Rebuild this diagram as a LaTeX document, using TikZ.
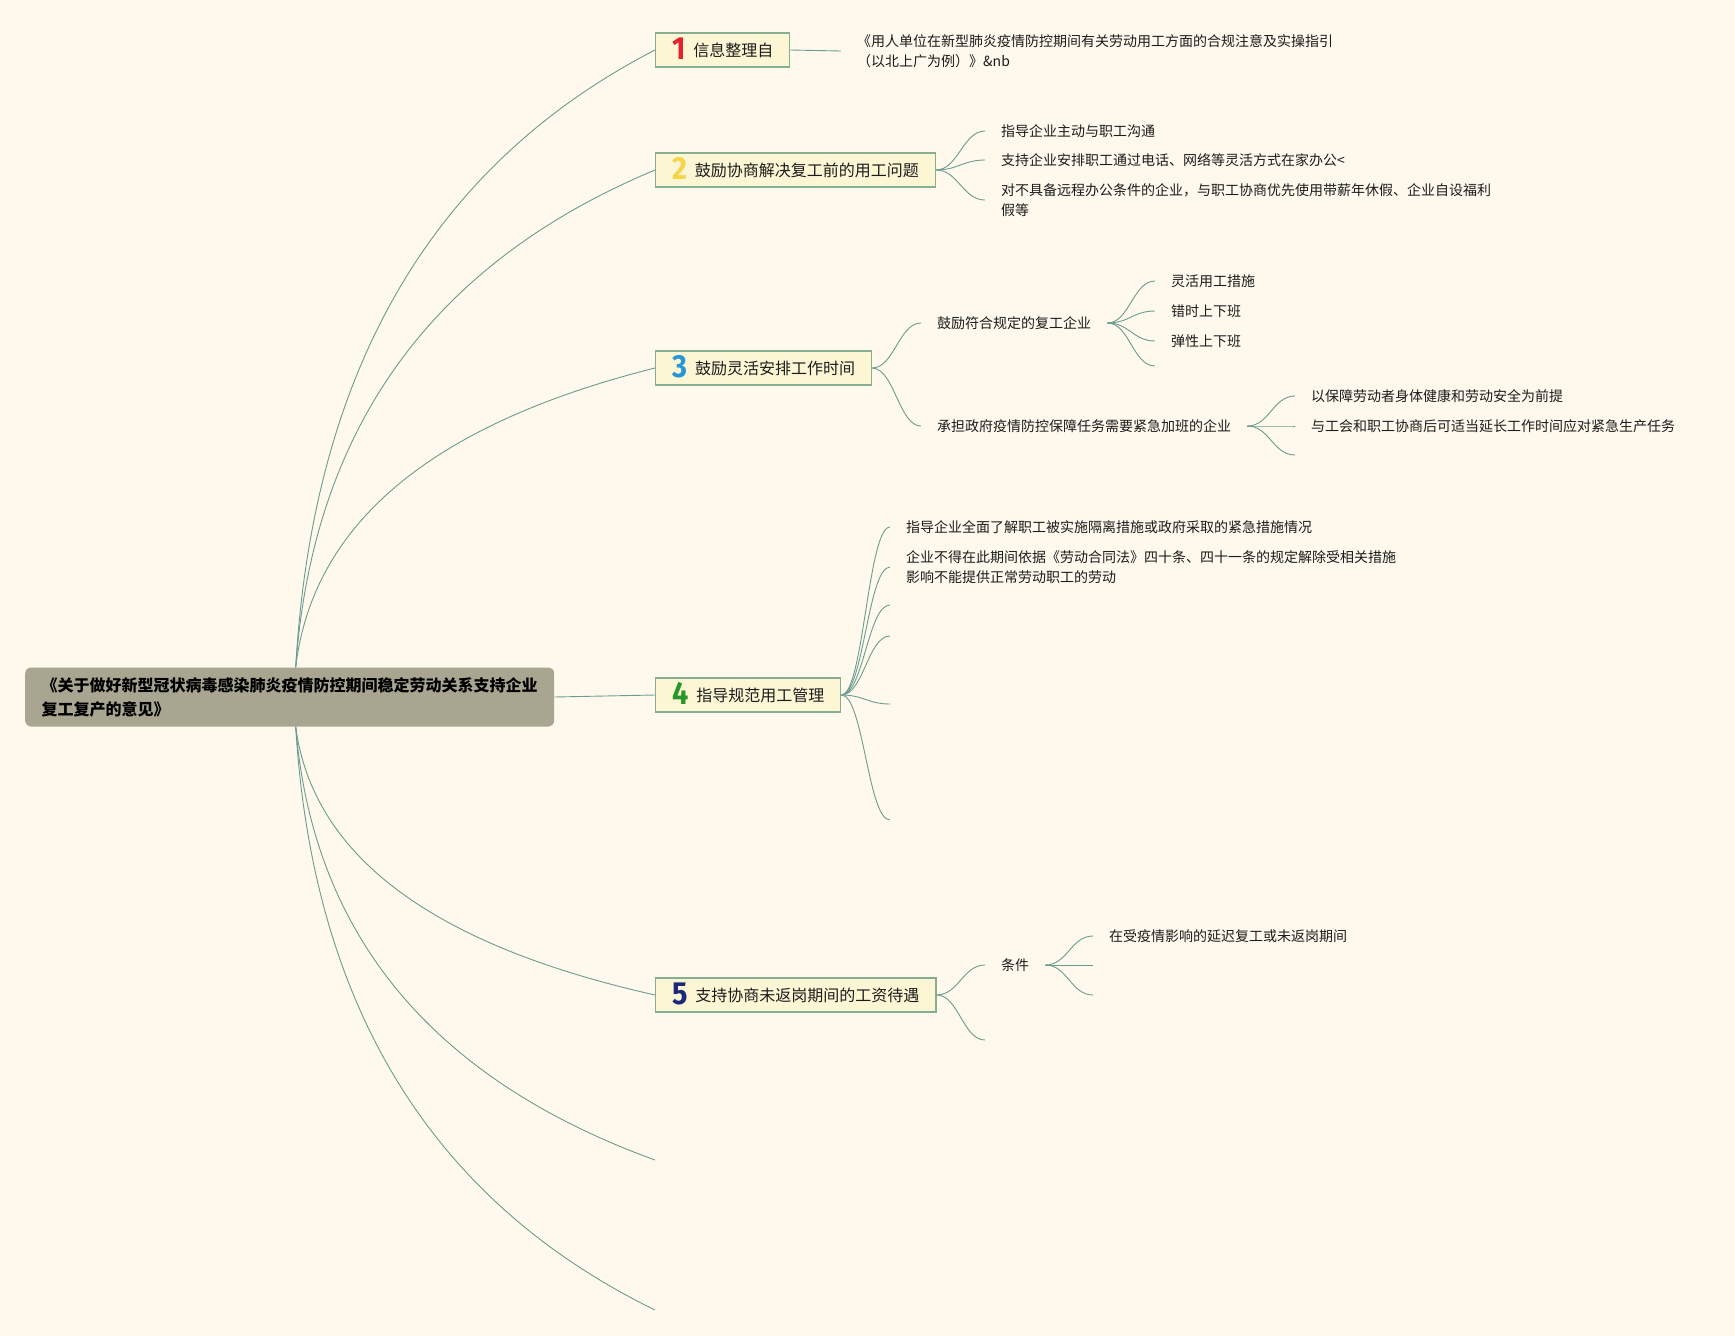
\documentclass[tikz,border=0pt]{standalone}
\usepackage{fontspec}
\setmainfont{Noto Sans CJK SC}
\newfontfamily\numfont{Fira Sans}[FakeStretch=0.9]
\usetikzlibrary{calc}
\definecolor{bgc}{RGB}{254,249,236}
\definecolor{linec}{RGB}{108,156,144}
\definecolor{rootc}{RGB}{168,165,145}
\definecolor{topicfill}{RGB}{253,246,212}
\definecolor{topicdraw}{RGB}{134,174,146}
\definecolor{txt}{RGB}{28,28,28}
\definecolor{nA}{RGB}{226,35,45}
\definecolor{nB}{RGB}{247,213,74}
\definecolor{nC}{RGB}{38,150,215}
\definecolor{nD}{RGB}{40,150,40}
\definecolor{nE}{RGB}{30,40,120}
\newcommand\tnum[2]{\raisebox{-3pt}[0pt][0pt]{\numfont\bfseries\fontsize{32}{32}\selectfont\color{#1}#2}\hspace{8pt}}
\newcommand\sconn[2]{\draw[conn] (#1) .. controls +(22,0) and +(-22,0) .. (#2);}
\begin{document}
\begin{tikzpicture}[x=1pt,y=-1pt,
  conn/.style={draw=linec,line width=0.9pt},
  rootbox/.style={fill=rootc,rounded corners=6pt,anchor=west,align=left,inner xsep=14pt,inner ysep=0pt,
    minimum width=529pt,minimum height=59pt,text=black,font=\bfseries\fontsize{16}{24}\selectfont},
  topic/.style={draw=topicdraw,fill=topicfill,line width=1.1pt,anchor=west,minimum height=34pt,
    inner xsep=16.5pt,inner ysep=0pt,text=txt,font=\fontsize{16}{20}\selectfont},
  leaf/.style={anchor=west,inner xsep=16pt,inner ysep=2pt,align=left,text=txt,font=\fontsize{14}{20}\selectfont}]
\useasboundingbox (0,0) rectangle (1735,1336);
\fill[bgc] (0,0) rectangle (1735,1336);

% root
\node[rootbox] (root) at (25,697) {《关于做好新型冠状病毒感染肺炎疫情防控期间稳定劳动关系支持企业\\复工复产的意见》};
\coordinate (rtop) at ($(root.north)+(6,0)$);
\coordinate (rbot) at ($(root.south)+(6,0)$);

% topics
\node[topic] (t1) at (655,50) {\tnum{nA}{1}信息整理自};
\node[topic] (t2) at (655,170) {\tnum{nB}{2}鼓励协商解决复工前的用工问题};
\node[topic] (t3) at (655,368) {\tnum{nC}{3}鼓励灵活安排工作时间};
\node[topic] (t4) at (655,695) {\tnum{nD}{4}指导规范用工管理};
\node[topic] (t5) at (655,995) {\tnum{nE}{5}支持协商未返岗期间的工资待遇};
\coordinate (e6) at (655,1160);
\coordinate (e7) at (655,1310);

% root connectors
\draw[conn] (rtop) .. controls +(17,-297) and +(-223,115) .. (t1.west);
\draw[conn] (rtop) .. controls +(17,-239) and +(-223,93) .. (t2.west);
\draw[conn] (rtop) .. controls +(17,-144) and +(-223,56) .. (t3.west);
\draw[conn] (root.east) -- (t4.west);
\draw[conn] (rbot) .. controls +(17,129) and +(-223,-50) .. (t5.west);
\draw[conn] (rbot) .. controls +(17,208) and +(-223,-81) .. (e6);
\draw[conn] (rbot) .. controls +(17,280) and +(-223,-109) .. (e7);

% topic 1
\node[leaf] (c11) at (841,51) {《用人单位在新型肺炎疫情防控期间有关劳动用工方面的合规注意及实操指引\\（以北上广为例）》\&nb};
\draw[conn] (t1.east) -- (c11.west);

% topic 2
\node[leaf] (c21) at (985,131) {指导企业主动与职工沟通};
\node[leaf] (c22) at (985,160) {支持企业安排职工通过电话、网络等灵活方式在家办公<};
\node[leaf] (c23) at (985,200) {对不具备远程办公条件的企业，与职工协商优先使用带薪年休假、企业自设福利\\假等};
\sconn{t2.east}{c21.west}
\sconn{t2.east}{c22.west}
\sconn{t2.east}{c23.west}

% topic 3
\node[leaf] (c31) at (921,323) {鼓励符合规定的复工企业};
\node[leaf] (c32) at (921,426) {承担政府疫情防控保障任务需要紧急加班的企业};
\sconn{t3.east}{c31.west}
\sconn{t3.east}{c32.west}
\node[leaf] (c311) at (1155,281) {灵活用工措施};
\node[leaf] (c312) at (1155,311) {错时上下班};
\node[leaf] (c313) at (1155,341) {弹性上下班};
\coordinate (e314) at (1155,366);
\sconn{c31.east}{c311.west}
\sconn{c31.east}{c312.west}
\sconn{c31.east}{c313.west}
\sconn{c31.east}{e314}
\node[leaf] (c321) at (1295,396) {以保障劳动者身体健康和劳动安全为前提};
\node[leaf] (c322) at (1295,426) {与工会和职工协商后可适当延长工作时间应对紧急生产任务};
\coordinate (e323) at (1295,455);
\sconn{c32.east}{c321.west}
\sconn{c32.east}{c322.west}
\sconn{c32.east}{e323}

% topic 4
\node[leaf] (c41) at (890,527) {指导企业全面了解职工被实施隔离措施或政府采取的紧急措施情况};
\node[leaf] (c42) at (890,567) {企业不得在此期间依据《劳动合同法》四十条、四十一条的规定解除受相关措施\\影响不能提供正常劳动职工的劳动};
\coordinate (e43) at (890,605);
\coordinate (e44) at (890,636);
\coordinate (e45) at (890,704);
\coordinate (e46) at (890,820);
\sconn{t4.east}{c41.west}
\sconn{t4.east}{c42.west}
\sconn{t4.east}{e43}
\sconn{t4.east}{e44}
\sconn{t4.east}{e45}
\sconn{t4.east}{e46}

% topic 5
\node[leaf] (c51) at (985,965) {条件};
\coordinate (e52) at (985,1040);
\sconn{t5.east}{c51.west}
\sconn{t5.east}{e52}
\node[leaf] (c511) at (1093,936) {在受疫情影响的延迟复工或未返岗期间};
\coordinate (e512) at (1093,965);
\coordinate (e513) at (1093,995);
\sconn{c51.east}{c511.west}
\sconn{c51.east}{e512}
\sconn{c51.east}{e513}
\end{tikzpicture}
\end{document}
